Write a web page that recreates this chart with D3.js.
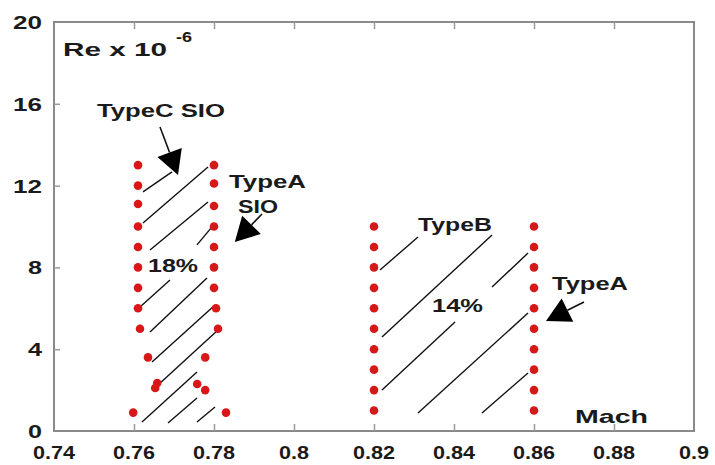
<!DOCTYPE html>
<html>
<head>
<meta charset="utf-8">
<script src="https://cdn.jsdelivr.net/npm/d3@7"></script>
<style>
  body { margin: 0; background: #fff; }
  text { font-family: "Liberation Sans", Arial, sans-serif; font-weight: bold; fill: #1a1a1a; }
</style>
</head>
<body>
<div id="chart"></div>
<script>
// --- data ---
var xTicks = [0.74, 0.76, 0.78, 0.8, 0.82, 0.84, 0.86, 0.88, 0.9];
var yTicks = [0, 4, 8, 12, 16, 20];

// left cluster, Type C SIO boundary (Mach ~0.76)
var typeCMach = [0.761, 0.761, 0.761, 0.761, 0.761, 0.761, 0.761, 0.761, 0.7615, 0.7635, 0.7658, 0.7653, 0.7598];
var typeCRe   = [13, 12, 11.1, 10, 9, 8, 7, 6, 5, 3.6, 2.35, 2.1, 0.9];
// left cluster, Type A SIO boundary (Mach ~0.78)
var typeASioMach = [0.78, 0.78, 0.78, 0.78, 0.78, 0.78, 0.78, 0.7805, 0.781, 0.7778, 0.7758, 0.7778, 0.783];
var typeASioRe   = [13, 12.1, 11, 10, 9, 8, 7, 6, 5, 3.6, 2.3, 2.0, 0.9];
// right cluster, Type B (0.82) and Type A (0.86)
var typeBMach = [0.82, 0.82, 0.82, 0.82, 0.82, 0.82, 0.82, 0.82, 0.82, 0.82];
var typeBRe   = [10, 9, 8, 7, 6, 5, 4, 3, 2, 1];
var typeAMach = [0.86, 0.86, 0.86, 0.86, 0.86, 0.86, 0.86, 0.86, 0.86, 0.86];
var typeARe   = [10, 9, 8, 7, 6, 5, 4, 3, 2, 1];

// hatching between boundaries [mach0, re0, mach1, re1]
var hatchLeft = [
  [0.76225, 11.69, 0.7695, 12.67],
  [0.76225, 10.17, 0.7785, 12.91],
  [0.764, 8.85, 0.7785, 11.2],
  [0.77575, 9.1, 0.7795, 9.98],
  [0.7615, 6.06, 0.769, 7.38],
  [0.764, 4.84, 0.77825, 7.48],
  [0.7645, 3.37, 0.78025, 6.16],
  [0.766, 2.25, 0.781, 4.94],
  [0.762, 0.44, 0.77575, 2.89],
  [0.7685, 0.39, 0.77575, 1.61],
  [0.77575, 0.44, 0.78025, 1.17]
];
var hatchRight = [
  [0.8215, 7.87, 0.831, 9.49],
  [0.822, 4.6, 0.8495, 9.58],
  [0.8495, 7.04, 0.8585, 8.7],
  [0.822, 2.0, 0.84025, 5.33],
  [0.831, 0.88, 0.8585, 5.77],
  [0.847, 0.88, 0.8585, 2.84]
];

// arrows [machFrom, reFrom, machTip, reTip]
var arrows = [
  [0.7665, 14.87, 0.771, 12.52],
  [0.792, 10.61, 0.7852, 9.24],
  [0.8725, 6.31, 0.863, 5.38]
];

// labels: text, mach, re (left edge / baseline), width in px
var labels = [
  ["TypeC SIO", 0.75075, 15.35, 128],
  ["TypeA", 0.78375, 11.88, 77],
  ["SIO", 0.786, 10.66, 40],
  ["18%", 0.7635, 7.78, 50],
  ["TypeB", 0.8310, 9.78, 74],
  ["14%", 0.8345, 5.82, 51],
  ["TypeA", 0.8645, 6.9, 76],
  ["Mach", 0.87025, 0.39, 73]
];

// --- chart ---
var width = 715, height = 465;
var svg = d3.select("#chart").append("svg").attr("width", width).attr("height", height);

var x = d3.scaleLinear().domain([0.74, 0.9]).range([54, 694]);
var y = d3.scaleLinear().domain([0, 20]).range([431, 22]);

// frame
svg.append("rect")
    .attr("x", x(0.74)).attr("y", y(20))
    .attr("width", x(0.9) - x(0.74)).attr("height", y(0) - y(20))
    .attr("fill", "none").attr("stroke", "#8a8a8a").attr("stroke-width", 2);

// inward ticks
var tickCol = "#9a9a9a";
svg.append("g").attr("transform", "translate(0," + y(0) + ")")
    .call(d3.axisBottom(x).tickValues(xTicks.slice(1, -1)).tickSize(-7).tickFormat(""))
    .call(function(g) { g.select(".domain").remove(); g.selectAll("line").attr("stroke", tickCol).attr("stroke-width", 1.5); });
svg.append("g").attr("transform", "translate(0," + y(20) + ")")
    .call(d3.axisTop(x).tickValues(xTicks.slice(1, -1)).tickSize(-7).tickFormat(""))
    .call(function(g) { g.select(".domain").remove(); g.selectAll("line").attr("stroke", tickCol).attr("stroke-width", 1.5); });
svg.append("g").attr("transform", "translate(" + x(0.74) + ",0)")
    .call(d3.axisLeft(y).tickValues(yTicks.slice(1, -1)).tickSize(-6).tickFormat(""))
    .call(function(g) { g.select(".domain").remove(); g.selectAll("line").attr("stroke", tickCol).attr("stroke-width", 1.5); });

// tick labels
svg.append("g").selectAll("text").data(xTicks).enter().append("text")
    .attr("x", function(d) { return x(d) - (d == 0.8 || d == 0.9 ? 15 : 21); })
    .attr("y", 459)
    .attr("font-size", 19)
    .attr("textLength", function(d) { return d == 0.8 || d == 0.9 ? 30 : 42; })
    .attr("lengthAdjust", "spacingAndGlyphs")
    .text(function(d) { return String(d); });

svg.append("g").selectAll("text").data(yTicks).enter().append("text")
    .attr("x", function(d) { return d < 10 ? 42 - 14 : 42 - 29; })
    .attr("y", function(d) { return y(d) + 7; })
    .attr("font-size", 19)
    .attr("textLength", function(d) { return d < 10 ? 14 : 29; })
    .attr("lengthAdjust", "spacingAndGlyphs")
    .text(function(d) { return d; });

// axis title inside plot
svg.append("text").attr("x", 63).attr("y", 56).attr("font-size", 19)
    .attr("textLength", 104).attr("lengthAdjust", "spacingAndGlyphs").text("Re x 10");
svg.append("text").attr("x", 176).attr("y", 42).attr("font-size", 14)
    .attr("textLength", 16).attr("lengthAdjust", "spacingAndGlyphs").text("-6");

// hatching
svg.append("g").selectAll("line").data(hatchLeft.concat(hatchRight)).enter().append("line")
    .attr("x1", function(d) { return x(d[0]); })
    .attr("y1", function(d) { return y(d[1]); })
    .attr("x2", function(d) { return x(d[2]); })
    .attr("y2", function(d) { return y(d[3]); })
    .attr("stroke", "#111").attr("stroke-width", 1.4);

// arrows
var ag = svg.append("g");
arrows.forEach(function(a) {
    var x0 = x(a[0]), y0 = y(a[1]), x1 = x(a[2]), y1 = y(a[3]);
    var ang = Math.atan2(y1 - y0, x1 - x0);
    var headLen = 24, headW = 13;
    var bx = x1 - headLen * Math.cos(ang), by = y1 - headLen * Math.sin(ang);
    ag.append("line").attr("x1", x0).attr("y1", y0).attr("x2", bx).attr("y2", by)
        .attr("stroke", "#111").attr("stroke-width", 1.6);
    var pts = [
        [x1, y1],
        [bx + headW * Math.sin(ang), by - headW * Math.cos(ang)],
        [bx - headW * Math.sin(ang), by + headW * Math.cos(ang)]
    ];
    ag.append("polygon").attr("points", pts.map(function(p) { return p.join(","); }).join(" "))
        .attr("fill", "#000");
});

// points
function drawPoints(machs, res) {
    svg.append("g").selectAll("circle").data(machs).enter().append("circle")
        .attr("cx", function(d) { return x(d); })
        .attr("cy", function(d, i) { return y(res[i]); })
        .attr("r", 4.3)
        .attr("fill", "#d81818");
}
drawPoints(typeCMach, typeCRe);
drawPoints(typeASioMach, typeASioRe);
drawPoints(typeBMach, typeBRe);
drawPoints(typeAMach, typeARe);

// annotation labels
svg.append("g").selectAll("text").data(labels).enter().append("text")
    .attr("x", function(d) { return x(d[1]); })
    .attr("y", function(d) { return y(d[2]); })
    .attr("font-size", 19)
    .attr("textLength", function(d) { return d[3]; })
    .attr("lengthAdjust", "spacingAndGlyphs")
    .text(function(d) { return d[0]; });
</script>
</body>
</html>
